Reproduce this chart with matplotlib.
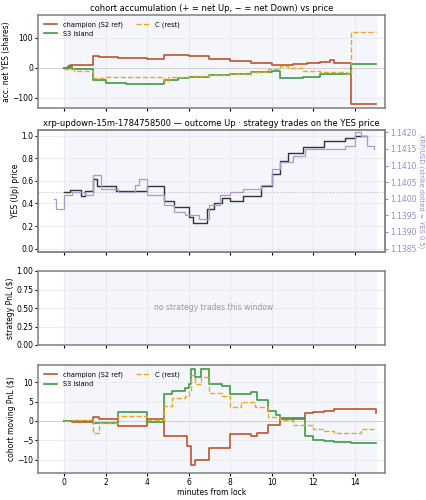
import matplotlib
matplotlib.use('Agg')
import matplotlib.pyplot as plt

# cohort accumulation (step series: time, value)
acc_t_champ = [0, 0.3, 1.4, 1.7, 2.6, 4.0, 4.8, 6.0, 7.0, 8.0, 9.0, 10.0, 11.0, 11.7, 12.3, 12.8, 13.0, 13.8, 15.0]
acc_champ = [-3, 10, 40, 35, 32, 30, 43, 38, 30, 22, 15, 10, 12, 15, 20, 25, 15, -120, -120]
acc_t_s3 = [0, 0.2, 0.4, 1.4, 2.0, 3.0, 4.8, 5.5, 6.0, 7.0, 8.0, 9.0, 10.0, 10.4, 11.5, 12.3, 13.8, 15.0]
acc_s3 = [0, 5, -5, -40, -50, -55, -40, -35, -30, -25, -20, -15, -10, -35, -30, -20, 12, 12]
acc_t_c = [0, 0.5, 1.4, 2.0, 4.8, 5.0, 6.0, 7.0, 8.0, 9.0, 9.8, 10.4, 10.8, 11.5, 12.3, 13.6, 13.8, 15.0]
acc_c = [-5, -10, -35, -32, -45, -30, -28, -25, -20, -15, -5, 5, 0, -10, -15, -20, 120, 120]

# YES price and XRP/USD
yes_t = [0, 0.3, 0.8, 1.0, 1.4, 1.6, 2.5, 4.0, 4.8, 5.3, 6.0, 6.2, 6.5, 6.9, 7.2, 7.6, 8.0, 8.6, 9.5, 10.0, 10.4, 10.8, 11.5, 12.5, 13.5, 14.0, 14.6]
yes_p = [0.5, 0.52, 0.47, 0.51, 0.62, 0.55, 0.51, 0.55, 0.42, 0.37, 0.28, 0.23, 0.23, 0.35, 0.40, 0.45, 0.42, 0.47, 0.55, 0.66, 0.78, 0.85, 0.90, 0.95, 0.98, 1.0, 1.0]
xrp_t = [-0.5, -0.4, 0, 0.4, 1.0, 1.4, 1.8, 2.6, 3.4, 3.6, 4.0, 4.8, 5.3, 5.8, 6.5, 7.0, 7.5, 8.0, 8.6, 9.5, 10.0, 10.4, 11.0, 11.6, 12.5, 13.5, 14.0, 14.3, 14.6, 14.9]
xrp_p = [1.1400, 1.1397, 1.1401, 1.1402, 1.1401, 1.1407, 1.1403, 1.1402, 1.1404, 1.1406, 1.1401, 1.1398, 1.1396, 1.1395, 1.1394, 1.1398, 1.1401, 1.1402, 1.1403, 1.1404, 1.1409, 1.1411, 1.1413, 1.1415, 1.1415, 1.1416, 1.1420, 1.1419, 1.1416, 1.1415]

# cohort moving PnL
pnl_t_champ = [0, 0.4, 1.4, 1.7, 2.6, 4.0, 4.8, 5.9, 6.1, 6.3, 7.0, 8.0, 9.0, 9.3, 9.8, 10.4, 11.0, 11.6, 12.0, 12.5, 13.0, 13.8, 14.98, 15.0]
pnl_champ = [0, -0.3, 1, 0.5, -1.2, 0.4, -4, -6.5, -11.5, -10, -7, -3.3, -4, -3.2, -1, 0.5, 0.7, 2, 2.3, 2.7, 3, 3.2, 3.1, 2]
pnl_t_s3 = [0, 1.4, 2.6, 4.0, 4.8, 5.2, 5.8, 6.0, 6.1, 6.3, 6.6, 7.0, 7.6, 8.0, 9.0, 9.3, 9.8, 10.2, 10.4, 11.0, 11.6, 12.0, 12.5, 13.0, 13.8, 15.0]
pnl_s3 = [0, -0.5, 2.2, -0.3, 7, 7.8, 8.5, 9.5, 13.5, 11.5, 13.5, 9.7, 9, 7, 7.6, 5.5, 2.5, 1.5, 0.8, 0.5, -4, -5, -5.3, -5.5, -5.8, -5.8]
pnl_t_c = [0, 0.3, 1.4, 1.7, 2.6, 4.0, 4.8, 5.2, 5.8, 6.0, 6.1, 6.3, 6.6, 7.0, 7.6, 8.0, 8.5, 9.2, 9.8, 10.4, 11.0, 12.0, 12.5, 13.0, 14.3, 15.0]
pnl_c = [0, 0.3, -3, -0.5, 1.2, 0.2, 4, 6, 6.5, 8, 12, 9.5, 11.5, 7.2, 6.5, 3.5, 4.8, 3.5, 1, 0.2, -1, -2, -2.5, -3, -2, -2]

c_champ, c_s3, c_c = '#c0522b', '#3d9a47', '#e8a820'
bg = '#f4f6fb'
fs = 5.5

fig = plt.figure(figsize=(4.27, 5.0), dpi=100)
L, W = 0.089, 0.813
ax1 = fig.add_axes([L, 0.784, W, 0.186])
ax2 = fig.add_axes([L, 0.496, W, 0.244])
ax3 = fig.add_axes([L, 0.310, W, 0.148])
ax4 = fig.add_axes([L, 0.054, W, 0.216])

for ax in [ax1, ax2, ax3, ax4]:
    ax.axvspan(0, 15, color=bg, zorder=0)
    ax.set_xlim(-1.25, 15.45)
    ax.set_xticks(range(0, 15, 2))
    ax.grid(True, color='#e4e6ea', lw=0.5)
    ax.tick_params(labelsize=fs, length=2, pad=1.5)
    for s in ax.spines.values():
        s.set_color('#888888')
        s.set_linewidth(1.2)
for ax in [ax1, ax2, ax3]:
    ax.tick_params(labelbottom=False)

# panel 1
ax1.axhline(0, color='#cccccc', lw=0.6)
ax1.step(acc_t_champ, acc_champ, where='post', color=c_champ, lw=1.2, label='champion (S2 ref)')
ax1.step(acc_t_s3, acc_s3, where='post', color=c_s3, lw=1.2, label='S3 island')
ax1.step(acc_t_c, acc_c, where='post', color=c_c, lw=1.0, ls='--', label='C (rest)')
ax1.set_ylim(-135, 175)
ax1.set_ylabel('acc. net YES (shares)', fontsize=fs, labelpad=1)
ax1.set_title('cohort accumulation (+ = net Up, − = net Down) vs price', fontsize=6, pad=3)
ax1.legend(loc='upper left', ncol=2, fontsize=4.8, frameon=False)

# panel 2
ax2.axhline(0.5, color='#bbbbbb', lw=0.8, ls=':')
ax2.step(yes_t, yes_p, where='post', color='#333333', lw=1.0)
ax2.set_ylim(-0.03, 1.05)
ax2.set_ylabel('YES (Up) price', fontsize=fs, labelpad=1)
ax2.set_title('xrp-updown-15m-1784758500 — outcome Up · strategy trades on the YES price', fontsize=6, pad=3)
ax2r = ax2.twinx()
ax2r.step(xrp_t, xrp_p, where='post', color='#a99bd0', lw=0.9)
k = 0.0035 / 1.03
ax2r.set_ylim(1.1385 - 0.03 * k, 1.1385 + 1.05 * k)
ax2r.set_yticks([1.1385, 1.1390, 1.1395, 1.1400, 1.1405, 1.1410, 1.1415, 1.1420])
ax2r.tick_params(labelsize=fs, length=2, pad=1.5, colors='#9b87c6')
ax2r.set_ylabel('XRP/USD (strike dotted = YES 0.5)', fontsize=4.8, color='#9b87c6', rotation=270, labelpad=6)
for s in ax2r.spines.values():
    s.set_color('#888888')
    s.set_linewidth(1.2)

# panel 3
ax3.set_ylim(0, 1)
ax3.set_ylabel('strategy PnL ($)', fontsize=fs, labelpad=1)
ax3.text(7.2, 0.5, 'no strategy trades this window', ha='center', va='center', fontsize=5.5, color='#999999')

# panel 4
ax4.axhline(0, color='#cccccc', lw=0.6)
ax4.step(pnl_t_champ, pnl_champ, where='post', color=c_champ, lw=1.2, label='champion (S2 ref)')
ax4.step(pnl_t_s3, pnl_s3, where='post', color=c_s3, lw=1.2, label='S3 island')
ax4.step(pnl_t_c, pnl_c, where='post', color=c_c, lw=1.0, ls='--', label='C (rest)')
ax4.set_ylim(-13.5, 14.5)
ax4.set_yticks([-10, -5, 0, 5, 10])
ax4.set_ylabel('cohort moving PnL ($)', fontsize=fs, labelpad=1)
ax4.set_xlabel('minutes from lock', fontsize=fs, labelpad=1)
ax4.legend(loc='upper left', ncol=2, fontsize=4.8, frameon=False)

fig.savefig('out.png', dpi=100)
